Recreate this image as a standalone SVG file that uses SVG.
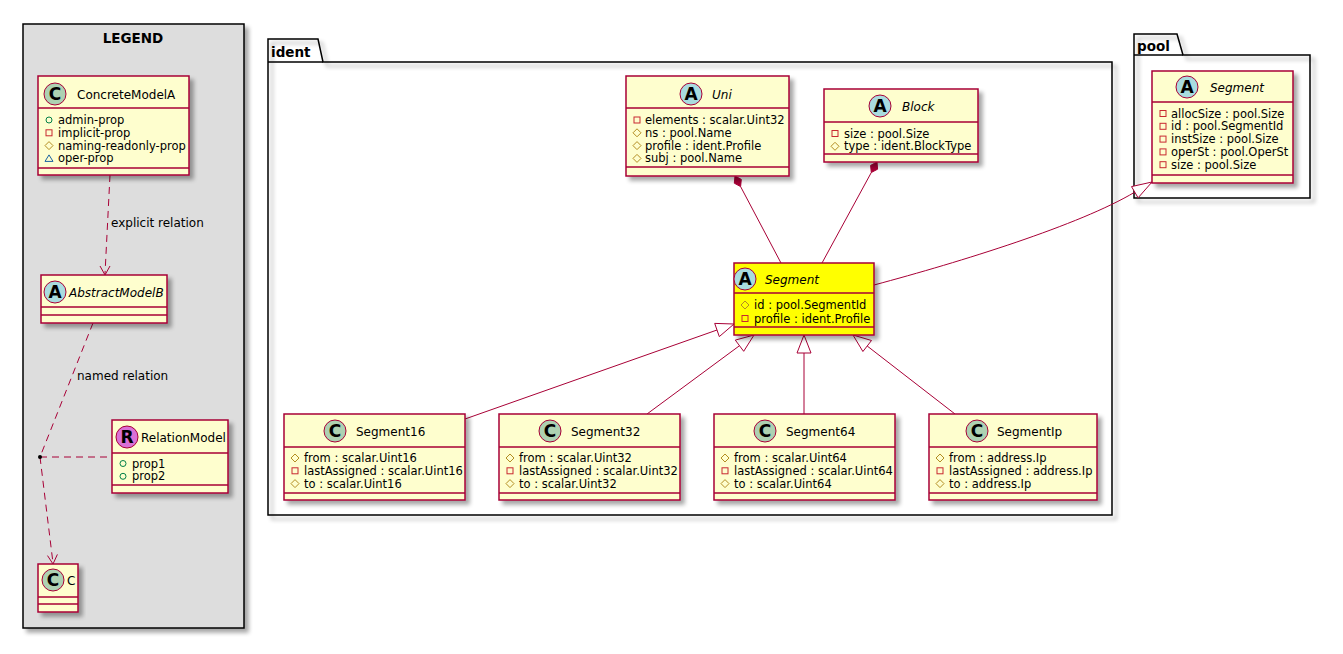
<svg xmlns="http://www.w3.org/2000/svg" xmlns:xlink="http://www.w3.org/1999/xlink" width="1343" height="654" viewBox="0 0 1343 654">
<style>
text{font-family:"DejaVu Sans","Liberation Sans",sans-serif;fill:#000}
.cls{fill:#FEFECE;stroke:#A80036;stroke-width:1.5}
.sep{stroke:#A80036;stroke-width:1.5;fill:none}
.cn{font-size:12px}
.it{font-style:italic}
.at{font-size:11.5px}
.lbl{font-size:12px}
.pk{fill:none;stroke:#000;stroke-width:1.5}
.pkt{font-size:13.5px;font-weight:bold}
.sc{stroke:#A80036;stroke-width:1}
.sl{font-size:13.5px;font-weight:bold;text-anchor:middle}
.ic{font-size:17px;font-weight:bold;text-anchor:middle}
.ln{stroke:#A80036;stroke-width:1;fill:none}
.dl{stroke:#A80036;stroke-width:1;fill:none;stroke-dasharray:7,5}
.tri{fill:#fff;stroke:#A80036;stroke-width:1}
.dia{fill:#A80036;stroke:#A80036;stroke-width:1}
</style>
<defs>
<filter id="sh" x="-10%" y="-10%" width="130%" height="130%">
<feGaussianBlur in="SourceAlpha" stdDeviation="2"/>
<feOffset dx="4" dy="4" result="o"/>
<feComponentTransfer><feFuncA type="linear" slope="0.35"/></feComponentTransfer>
<feMerge><feMergeNode/><feMergeNode in="SourceGraphic"/></feMerge>
</filter>
<rect id="priv" x="-3" y="-3" width="6" height="6" fill="none" stroke="#C82930"/>
<polygon id="prot" points="0,-4 4,0 0,4 -4,0" fill="none" stroke="#B38D22"/>
<circle id="pub" r="3" fill="none" stroke="#038048"/>
<polygon id="pkg" points="0,-3.5 4,3 -4,3" fill="none" stroke="#1963A0"/>
</defs>
<rect width="1343" height="654" fill="#fff"/>

<g id="legend">
<rect x="23" y="24" width="221" height="604" fill="#DDDDDD" stroke="#000" stroke-width="1.5" filter="url(#sh)"/>
<text x="133" y="43" class="sl">LEGEND</text>
</g>

<g id="ident-package">
<path class="pk" filter="url(#sh)" d="M268,39 H318 L323,62 H1112 V515 H268 Z"/>
<path class="pk" d="M268,62 H323"/>
<text x="271" y="57" class="pkt">ident</text>
</g>

<g id="pool-package">
<path class="pk" filter="url(#sh)" d="M1134,34 H1177 L1183,55 H1310 V198 H1134 Z"/>
<path class="pk" d="M1134,55 H1183"/>
<text x="1137" y="51" class="pkt">pool</text>
</g>

<g id="connectors">
<path class="dl" d="M110,175 L105,274"/>
<polyline class="ln" points="100,266 105,275 110,266"/>
<text x="111" y="227" class="lbl">explicit relation</text>
<path class="dl" d="M93,323 L40,457"/>
<text x="77" y="380" class="lbl">named relation</text>
<path class="dl" d="M40,457 L112,457"/>
<path class="dl" d="M40,457 L53,563"/>
<polyline class="ln" points="47.5,555.6 53,564 57.4,554.4"/>
<circle cx="40" cy="457" r="2" fill="#000"/>
<polygon class="dia" points="735,176 741.3,179.4 740.6,186.6 734.3,183.2"/>
<path class="ln" d="M740.6,186.6 L781,263"/>
<polygon class="dia" points="877,162 877.6,169.2 871.3,172.5 870.6,165.4"/>
<path class="ln" d="M871.3,172.5 L822,263"/>
<path class="ln" d="M874,285 C960,262 1080,225 1135,192"/>
<polygon class="tri" points="1152,182 1138.1,197.8 1131.5,186.6"/>
<path class="ln" d="M717,330 L465,419"/>
<polygon class="tri" points="734,324 719.3,336.6 714.7,323.4"/>
<path class="ln" d="M739.5,345.7 L647,414"/>
<polygon class="tri" points="754,335 743.7,351.3 735.3,340.1"/>
<path class="ln" d="M804,353 L804,414"/>
<polygon class="tri" points="804,335 811,353 797,353"/>
<path class="ln" d="M867.2,346 L955,414"/>
<polygon class="tri" points="853,335 862.9,351.5 871.5,340.5"/>
</g>

<g id="ConcreteModelA">
<rect class="cls" x="38" y="76" width="151" height="99" filter="url(#sh)"/>
<path class="sep" d="M38,108 H189 M38,168 H189"/>
<circle cx="55" cy="94" r="11" fill="#ADD1B2" class="sc"/>
<text x="55" y="100" class="ic">C</text>
<text x="77" y="98.5" class="cn">ConcreteModelA</text>
<use href="#pub" x="49" y="120"/><text x="58" y="124" class="at">admin-prop</text>
<use href="#priv" x="49" y="132.8"/><text x="58" y="136.8" class="at">implicit-prop</text>
<use href="#prot" x="49" y="145.6"/><text x="58" y="149.6" class="at">naming-readonly-prop</text>
<use href="#pkg" x="49" y="158.4"/><text x="58" y="162.4" class="at">oper-prop</text>
</g>

<g id="AbstractModelB">
<rect class="cls" x="41" y="275" width="126" height="48" filter="url(#sh)"/>
<path class="sep" d="M41,307 H167 M41,315 H167"/>
<circle cx="55" cy="292" r="11" fill="#A9DCDF" class="sc"/>
<text x="55" y="298" class="ic">A</text>
<text x="69" y="296.5" class="cn it">AbstractModelB</text>
</g>

<g id="RelationModel">
<rect class="cls" x="112" y="420" width="116" height="73" filter="url(#sh)"/>
<path class="sep" d="M112,453 H228 M112,485 H228"/>
<circle cx="127" cy="437" r="11" fill="#DA70D6" class="sc"/>
<text x="127" y="443" class="ic">R</text>
<text x="141" y="441.5" class="cn">RelationModel</text>
<use href="#pub" x="123" y="463.5"/><text x="132" y="467.5" class="at">prop1</text>
<use href="#pub" x="123" y="476.3"/><text x="132" y="480.3" class="at">prop2</text>
</g>

<g id="C">
<rect class="cls" x="38" y="564" width="40" height="48" filter="url(#sh)"/>
<path class="sep" d="M38,597 H78 M38,604 H78"/>
<circle cx="53" cy="580" r="11" fill="#ADD1B2" class="sc"/>
<text x="53" y="586" class="ic">C</text>
<text x="67" y="584.5" class="cn">C</text>
</g>

<g id="Uni">
<rect class="cls" x="626" y="76" width="163" height="100" filter="url(#sh)"/>
<path class="sep" d="M626,108 H789 M626,167 H789"/>
<circle cx="691" cy="94" r="11" fill="#A9DCDF" class="sc"/>
<text x="691" y="100" class="ic">A</text>
<text x="712" y="98.5" class="cn it">Uni</text>
<use href="#priv" x="637" y="120"/><text x="645" y="124" class="at">elements : scalar.Uint32</text>
<use href="#prot" x="637" y="132.8"/><text x="645" y="136.8" class="at">ns : pool.Name</text>
<use href="#prot" x="637" y="145.6"/><text x="645" y="149.6" class="at">profile : ident.Profile</text>
<use href="#prot" x="637" y="158.4"/><text x="645" y="162.4" class="at">subj : pool.Name</text>
</g>

<g id="Block">
<rect class="cls" x="824" y="89" width="154" height="73" filter="url(#sh)"/>
<path class="sep" d="M824,122 H978 M824,154 H978"/>
<circle cx="880" cy="106" r="11" fill="#A9DCDF" class="sc"/>
<text x="880" y="112" class="ic">A</text>
<text x="902" y="110.5" class="cn it">Block</text>
<use href="#priv" x="835" y="133.5"/><text x="844" y="137.5" class="at">size : pool.Size</text>
<use href="#prot" x="835" y="146.3"/><text x="844" y="150.3" class="at">type : ident.BlockType</text>
</g>

<g id="ident-Segment">
<rect x="734" y="263" width="140" height="72" fill="#FFFF00" stroke="#A80036" stroke-width="1.5" filter="url(#sh)"/>
<path class="sep" d="M734,293 H874 M734,327 H874"/>
<circle cx="745" cy="279" r="11" fill="#A9DCDF" class="sc"/>
<text x="745" y="285" class="ic">A</text>
<text x="765" y="283.5" class="cn it">Segment</text>
<use href="#prot" x="745" y="305"/><text x="754" y="309" class="at">id : pool.SegmentId</text>
<use href="#priv" x="745" y="318.5"/><text x="754" y="322.5" class="at">profile : ident.Profile</text>
</g>

<g id="pool-Segment">
<rect class="cls" x="1152" y="71" width="141" height="112" filter="url(#sh)"/>
<path class="sep" d="M1152,102 H1293 M1152,175 H1293"/>
<circle cx="1187" cy="87" r="11" fill="#A9DCDF" class="sc"/>
<text x="1187" y="93" class="ic">A</text>
<text x="1210" y="91.5" class="cn it">Segment</text>
<use href="#priv" x="1163" y="113.5"/><text x="1171" y="117.5" class="at">allocSize : pool.Size</text>
<use href="#priv" x="1163" y="126.3"/><text x="1171" y="130.3" class="at">id : pool.SegmentId</text>
<use href="#priv" x="1163" y="139.1"/><text x="1171" y="143.1" class="at">instSize : pool.Size</text>
<use href="#priv" x="1163" y="151.9"/><text x="1171" y="155.9" class="at">operSt : pool.OperSt</text>
<use href="#priv" x="1163" y="164.7"/><text x="1171" y="168.7" class="at">size : pool.Size</text>
</g>

<g id="Segment16">
<rect class="cls" x="284" y="414" width="181" height="86" filter="url(#sh)"/>
<path class="sep" d="M284,447 H465 M284,493 H465"/>
<circle cx="335" cy="431" r="11" fill="#ADD1B2" class="sc"/>
<text x="335" y="437" class="ic">C</text>
<text x="356" y="435.5" class="cn">Segment16</text>
<use href="#prot" x="295" y="458"/><text x="304" y="462" class="at">from : scalar.Uint16</text>
<use href="#priv" x="295" y="470.8"/><text x="304" y="474.8" class="at">lastAssigned : scalar.Uint16</text>
<use href="#prot" x="295" y="483.6"/><text x="304" y="487.6" class="at">to : scalar.Uint16</text>
</g>

<g id="Segment32">
<rect class="cls" x="499" y="414" width="181" height="86" filter="url(#sh)"/>
<path class="sep" d="M499,447 H680 M499,493 H680"/>
<circle cx="550" cy="431" r="11" fill="#ADD1B2" class="sc"/>
<text x="550" y="437" class="ic">C</text>
<text x="571" y="435.5" class="cn">Segment32</text>
<use href="#prot" x="510" y="458"/><text x="519" y="462" class="at">from : scalar.Uint32</text>
<use href="#priv" x="510" y="470.8"/><text x="519" y="474.8" class="at">lastAssigned : scalar.Uint32</text>
<use href="#prot" x="510" y="483.6"/><text x="519" y="487.6" class="at">to : scalar.Uint32</text>
</g>

<g id="Segment64">
<rect class="cls" x="714" y="414" width="181" height="86" filter="url(#sh)"/>
<path class="sep" d="M714,447 H895 M714,493 H895"/>
<circle cx="765" cy="431" r="11" fill="#ADD1B2" class="sc"/>
<text x="765" y="437" class="ic">C</text>
<text x="786" y="435.5" class="cn">Segment64</text>
<use href="#prot" x="725" y="458"/><text x="734" y="462" class="at">from : scalar.Uint64</text>
<use href="#priv" x="725" y="470.8"/><text x="734" y="474.8" class="at">lastAssigned : scalar.Uint64</text>
<use href="#prot" x="725" y="483.6"/><text x="734" y="487.6" class="at">to : scalar.Uint64</text>
</g>

<g id="SegmentIp">
<rect class="cls" x="929" y="414" width="168" height="86" filter="url(#sh)"/>
<path class="sep" d="M929,447 H1097 M929,493 H1097"/>
<circle cx="977" cy="431" r="11" fill="#ADD1B2" class="sc"/>
<text x="977" y="437" class="ic">C</text>
<text x="997" y="435.5" class="cn">SegmentIp</text>
<use href="#prot" x="940" y="458"/><text x="949" y="462" class="at">from : address.Ip</text>
<use href="#priv" x="940" y="470.8"/><text x="949" y="474.8" class="at">lastAssigned : address.Ip</text>
<use href="#prot" x="940" y="483.6"/><text x="949" y="487.6" class="at">to : address.Ip</text>
</g>
</svg>
